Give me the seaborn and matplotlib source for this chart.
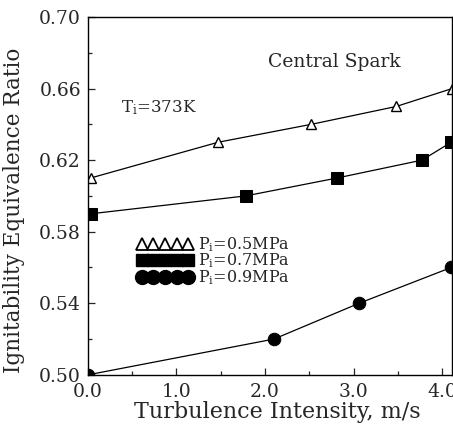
import matplotlib
matplotlib.use("Agg")
import matplotlib.pyplot as plt
from matplotlib.lines import Line2D
from matplotlib.ticker import MultipleLocator, FixedLocator, FormatStrFormatter
import seaborn as sns

sns.set_style("ticks")
plt.rcParams['font.family'] = ['DejaVu Serif']
plt.rcParams['mathtext.fontset'] = 'dejavuserif'

x_05 = [0.03, 1.47, 2.52, 3.48, 4.11]
y_05 = [0.610, 0.630, 0.640, 0.650, 0.660]
x_07 = [0.03, 1.78, 2.81, 3.77, 4.10]
y_07 = [0.590, 0.600, 0.610, 0.620, 0.630]
x_09 = [0.00, 2.10, 3.06, 4.10]
y_09 = [0.500, 0.520, 0.540, 0.560]
y_ticks = [0.50, 0.54, 0.58, 0.62, 0.66, 0.70]
labels = ["P$_\\mathregular{i}$=0.5MPa", "P$_\\mathregular{i}$=0.7MPa", "P$_\\mathregular{i}$=0.9MPa"]

fig = plt.figure(figsize=(4.53, 4.25), dpi=100)
ax = fig.add_axes([0.194, 0.118, 0.804, 0.842])

sns.lineplot(x=x_05, y=y_05, ax=ax, color="black", lw=0.9, marker="^", markersize=7,
             markerfacecolor="white", markeredgecolor="black", markeredgewidth=1.0)
sns.lineplot(x=x_07, y=y_07, ax=ax, color="black", lw=0.9, marker="s", markersize=8,
             markerfacecolor="black", markeredgecolor="black")
sns.lineplot(x=x_09, y=y_09, ax=ax, color="black", lw=0.9, marker="o", markersize=9,
             markerfacecolor="black", markeredgecolor="black")

ax.set_xlim(0.0, 4.11)
ax.set_ylim(0.50, 0.70)
ax.xaxis.set_major_locator(MultipleLocator(1.0))
ax.xaxis.set_minor_locator(MultipleLocator(0.5))
ax.yaxis.set_major_locator(FixedLocator(y_ticks))
ax.yaxis.set_minor_locator(FixedLocator([0.52, 0.56, 0.60, 0.64, 0.68]))
ax.xaxis.set_major_formatter(FormatStrFormatter("%.1f"))
ax.yaxis.set_major_formatter(FormatStrFormatter("%.2f"))
ax.tick_params(which="both", direction="in", top=False, right=False)
ax.tick_params(which="major", length=5, labelsize=13.5, width=0.9)
ax.tick_params(axis="x", which="major", pad=6)
ax.tick_params(axis="y", which="major", pad=5)
ax.tick_params(which="minor", length=3, width=0.9)
for s in ax.spines.values():
    s.set_visible(True)
    s.set_linewidth(1.0)
    s.set_color("black")

ax.set_xlabel("Turbulence Intensity, m/s", fontsize=16)
ax.set_ylabel("Ignitability Equivalence Ratio", fontsize=15.5)
ax.xaxis.set_label_coords(0.52, -0.072)
ax.yaxis.set_label_coords(-0.172, 0.46)

ax.text(0.495, 0.874, "Central Spark", transform=ax.transAxes, fontsize=13.5, va="center")
ax.text(0.09, 0.746, "T$_\\mathregular{i}$=373K", transform=ax.transAxes, fontsize=12, va="center")

handles = [
    Line2D([], [], ls="none", marker="^", markersize=9, markerfacecolor="white",
           markeredgecolor="black", markeredgewidth=1.3),
    Line2D([], [], ls="none", marker="s", markersize=9, color="black"),
    Line2D([], [], ls="none", marker="o", markersize=10, color="black"),
]
ax.legend(handles, labels, loc="upper left", bbox_to_anchor=(0.135, 0.39), frameon=False,
          numpoints=5, handlelength=3.5, handletextpad=0.3, labelspacing=-0.15,
          fontsize=11.5, borderpad=0, borderaxespad=0, handleheight=0.5)

fig.savefig("out.png", dpi=100)
